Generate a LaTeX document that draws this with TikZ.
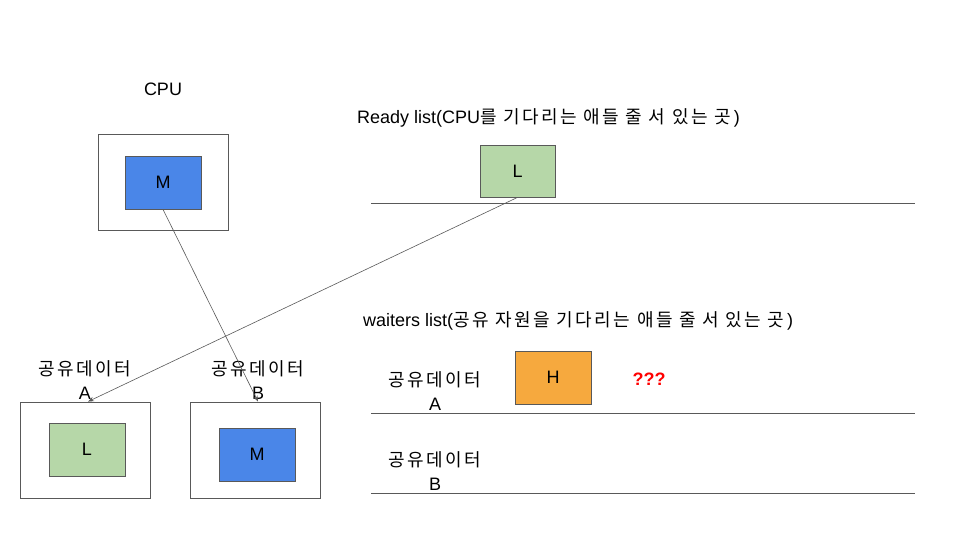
\documentclass[tikz,border=0pt]{standalone}
\usepackage{fontspec}
\setmainfont{Liberation Sans}
\newfontfamily\kr[LetterSpace=14]{Noto Sans CJK KR}
\usepackage{xcolor}
\usepackage{tikz}
\usetikzlibrary{positioning, arrows.meta}

\definecolor{mblue}{HTML}{4A86E8}
\definecolor{lgreen}{HTML}{B6D7A8}
\definecolor{horange}{HTML}{F6A93E}
\definecolor{edgegray}{HTML}{595959}

\tikzset{
    outerbox/.style={draw=edgegray, line width=0.8pt, minimum width=130pt, minimum height=96pt},
    procbox/.style={draw=edgegray, line width=0.8pt, minimum width=76pt, minimum height=53pt},
    lbl/.style={align=center, inner sep=0pt},
    listline/.style={draw=edgegray, line width=0.8pt},
    link/.style={draw=edgegray, line width=0.6pt, -{Stealth[length=6pt,width=4.5pt]}}
}

\begin{document}
\begin{tikzpicture}[x=1pt, y=-1pt, font=\fontsize{18}{24}\selectfont]
        \useasboundingbox (0,0) rectangle (960,540);

        % CPU
        \node[lbl] (cpulbl) at (163,89) {CPU};
        \node[outerbox] (cpu) at (163,182) {};
        \node[procbox, fill=mblue] (cpuM) at (163,182.5) {M};

        % Ready list
        \node[lbl, anchor=west] (readylbl) at (357,118) {Ready list(CPU{\kr 를 기다리는 애들 줄 서 있는 곳}\,)};
        \node[procbox, fill=lgreen, minimum width=75pt, minimum height=52pt] (readyL) at (517.5,171) {L};
        \coordinate (r1) at (371,203);
        \coordinate (r2) at (915,203);
        \draw[listline] (r1) -- (r2);

        % waiters list
        \node[lbl, anchor=west] (waitlbl) at (363,321) {waiters list({\kr 공유 자원을 기다리는 애들 줄 서 있는 곳}\,)};
        \node[lbl] (waitAlbl) at (435,391) {{\kr 공유데이터}\\A};
        \node[procbox, fill=horange] (waitH) at (553,377.5) {H};
        \node[lbl, text=red, font=\fontsize{18}{24}\selectfont\bfseries] (qq) at (649,379) {???};
        \coordinate (a1) at (371,413);
        \coordinate (a2) at (915,413);
        \draw[listline] (a1) -- (a2);
        \node[lbl] (waitBlbl) at (435,471) {{\kr 공유데이터}\\B};
        \coordinate (b1) at (371,493);
        \coordinate (b2) at (915,493);
        \draw[listline] (b1) -- (b2);

        % shared data
        \node[lbl] (shAlbl) at (85,380) {{\kr 공유데이터}\\A};
        \node[outerbox] (shA) at (85,450) {};
        \node[procbox, fill=lgreen] (shL) at (87,449.5) {L};
        \node[lbl] (shBlbl) at (258,380) {{\kr 공유데이터}\\B};
        \node[outerbox] (shB) at (255,450) {};
        \node[procbox, fill=mblue] (shM) at (257,454.5) {M};

        % links
        \draw[link] (cpuM.south) -- ([xshift=3pt]shB.north);
        \draw[link] (readyL.south) -- ([xshift=3pt]shA.north);
    \end{tikzpicture}
\end{document}
